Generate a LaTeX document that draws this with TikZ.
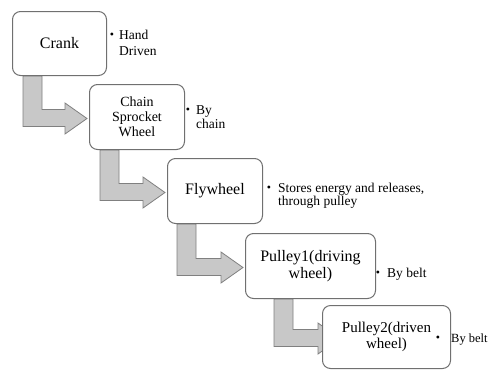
\documentclass[tikz,border=0pt]{standalone}
\usepackage{fontspec}
\setmainfont{Liberation Serif}
\usetikzlibrary{backgrounds,calc}
\definecolor{boxline}{HTML}{707070}
\definecolor{arrowfill}{HTML}{C8C8C8}
\definecolor{arrowline}{HTML}{808080}
\tikzset{
  stagebox/.style={draw=boxline, line width=1pt, fill=white, rounded corners=8pt,
    anchor=north west, align=center, inner sep=2pt},
  note/.style={anchor=base west, inner sep=0pt, font=\fontsize{13.5}{13.5}\selectfont},
  bulletdot/.style={inner sep=0pt, font=\fontsize{12}{12}\selectfont},
  bentshape/.style={fill=arrowfill, draw=arrowline, line width=0.8pt, line join=miter},
}
\newcommand\bentarrow[4]{%
  \draw[bentshape] let \p1=(#1.south west), \p2=(#2.west) in
    (\x1+#3pt,\y1) -- (\x1+#3pt+19pt,\y1) -- (\x1+#3pt+19pt,\y2+7.5pt)
    -- (\x2-#4pt,\y2+7.5pt) -- (\x2-#4pt,\y2+14pt) -- (\x2-#4pt+22pt,\y2-1.5pt)
    -- (\x2-#4pt,\y2-17pt) -- (\x2-#4pt,\y2-9.5pt) -- (\x1+#3pt,\y2-9.5pt) -- cycle;}
\begin{document}
\begin{tikzpicture}[x=1pt,y=-1pt]
\useasboundingbox (0,0) rectangle (489,370);
% boxes
\node[stagebox, minimum width=94pt, minimum height=64pt, font=\fontsize{16}{17}\selectfont] (crank) at (12,11) {Crank};
\node[stagebox, minimum width=95pt, minimum height=65pt, font=\fontsize{14}{15}\selectfont] (chain) at (89,84) {Chain\\Sprocket\\Wheel};
\node[stagebox, minimum width=95pt, minimum height=65pt, font=\fontsize{16}{17}\selectfont] (fly) at (167,158) {Flywheel};
\node[stagebox, minimum width=130pt, minimum height=65pt, font=\fontsize{16}{17}\selectfont] (pulleyone) at (245,233) {Pulley1(driving\\wheel)};
\node[stagebox, minimum width=128pt, minimum height=63pt, font=\fontsize{15}{16}\selectfont] (pulleytwo) at (322,305) {Pulley2(driven\\wheel)};
% bent arrows behind boxes
\begin{scope}[on background layer]
\bentarrow{crank}{chain}{11}{24}
\bentarrow{chain}{fly}{11}{24}
\bentarrow{fly}{pulleyone}{10}{24}
\bentarrow{pulleyone}{pulleytwo}{29}{4}
\end{scope}
% notes
\node[bulletdot] (b1) at (112,36) {\textbullet};
\node[note] (n1a) at (119,39) {Hand};
\node[note] (n1b) at (119,55) {Driven};
\node[bulletdot] (b2) at (188,111) {\textbullet};
\node[note] (n2a) at (196,114) {By};
\node[note] (n2b) at (196,128) {chain};
\node[bulletdot] (b3) at (269,189) {\textbullet};
\node[note] (n3a) at (278,192) {Stores energy and releases,};
\node[note] (n3b) at (278,205) {through pulley};
\node[bulletdot] (b4) at (378,274) {\textbullet};
\node[note] (n4) at (387,277) {By belt};
\node[bulletdot] (b5) at (438,339) {\textbullet};
\node[note, font=\fontsize{12.5}{12.5}\selectfont] (n5) at (451,342) {By belt};
\end{tikzpicture}
\end{document}
